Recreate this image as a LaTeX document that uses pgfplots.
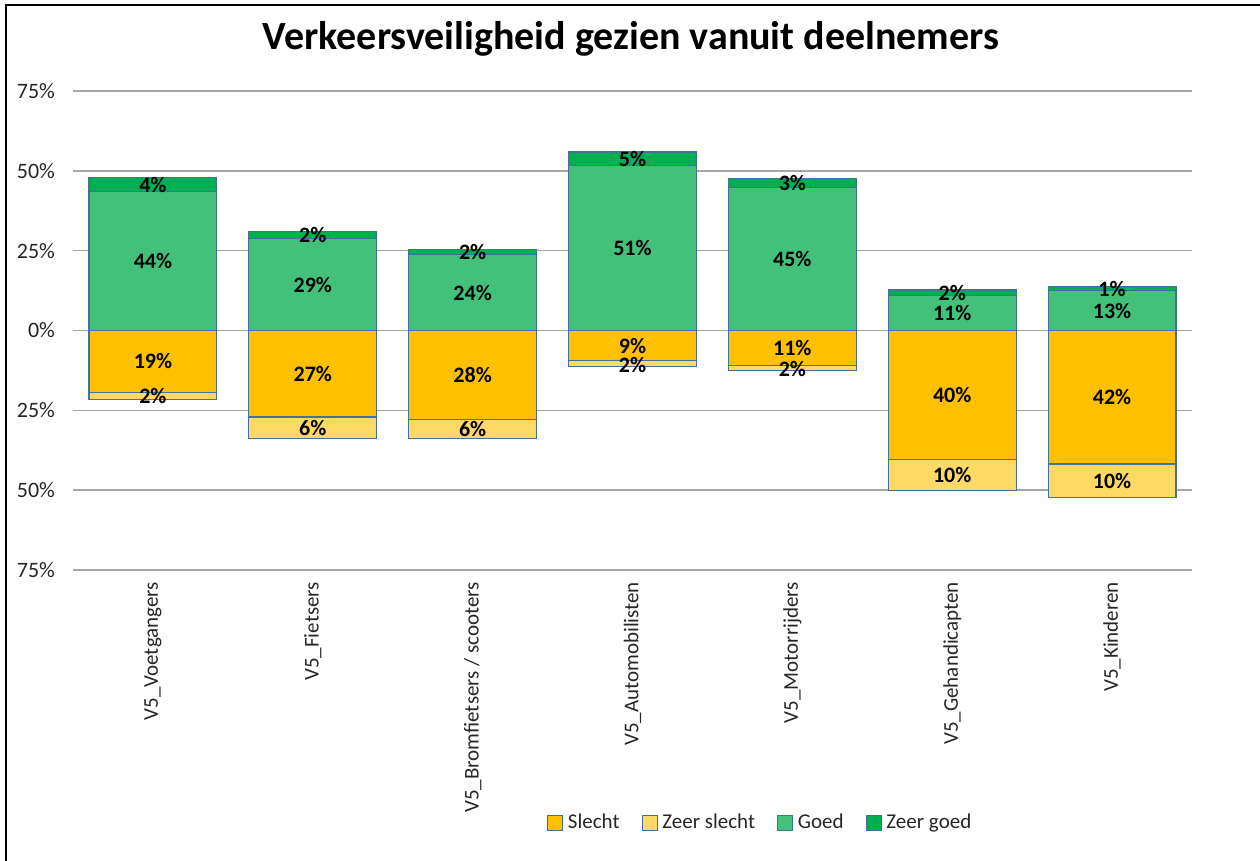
\documentclass[border=0pt]{standalone}
\usepackage{fontspec}
\setmainfont{Carlito}
\usepackage{pgfplots}
\pgfplotsset{compat=1.18}
\definecolor{slecht}{HTML}{FFC000}
\definecolor{zslecht}{HTML}{FFD966}
\definecolor{goed}{HTML}{43C17A}
\definecolor{zgoed}{HTML}{00B050}
\definecolor{edge}{HTML}{41719C}
\definecolor{gridc}{HTML}{A6A6A6}
\definecolor{txt}{HTML}{262626}
\pgfplotsset{
  base/.style={scale only axis, width=559.5pt, height=239.5pt,
    at={(36.5pt,145.5pt)}, anchor=south west,
    xmin=-0.5, xmax=6.5, ymin=-75, ymax=75},
  mylegend/.style={legend image code/.code={\draw[##1] (0pt,-3.75pt) rectangle (7.5pt,3.75pt);}},
  barst/.style={draw=edge, line width=0.6pt}
}
\newcommand{\lbl}{\fontsize{10.5}{12}\selectfont}
\begin{document}
\begin{tikzpicture}
\path[use as bounding box] (0,0) rectangle (630pt,430.5pt);
% main axis: grid, ticks, legend, negative bars
\begin{axis}[base, ybar stacked, bar width=0.8,
  axis line style={draw=none}, major tick length=0pt,
  ymajorgrids, grid style={gridc, line width=0.75pt},
  ytick={-75,-50,...,75},
  yticklabels={75\%,50\%,25\%,0\%,25\%,50\%,75\%},
  yticklabel style={font=\fontsize{11}{13}\selectfont, text=txt, xshift=-5.5pt},
  xtick={0,...,6},
  xticklabels={V5\_Voetgangers,V5\_Fietsers,V5\_Bromfietsers / scooters,V5\_Automobilisten,V5\_Motorrijders,V5\_Gehandicapten,V5\_Kinderen},
  xticklabel shift=2.5pt,
  xticklabel style={rotate=90, anchor=east, font=\lbl, text=txt},
  legend style={at={(0.615,-0.528)}, anchor=center, legend columns=4, draw=none, fill=none, font=\lbl, text=txt,
    /tikz/every odd column/.append style={column sep=0.5pt},
    /tikz/every even column/.append style={column sep=9pt}},
]
\addplot[barst, fill=slecht, forget plot] coordinates {(0,-19.4) (1,-27.1) (2,-27.9) (3,-9.5) (4,-11.0) (5,-40.3) (6,-41.8)};
\addplot[barst, fill=zslecht, forget plot] coordinates {(0,-2.2) (1,-6.6) (2,-5.8) (3,-1.8) (4,-1.6) (5,-9.7) (6,-10.5)};
\addlegendimage{mylegend, fill=slecht, draw=edge}
\addlegendentry{Slecht}
\addlegendimage{mylegend, fill=zslecht, draw=edge}
\addlegendentry{Zeer slecht}
\addlegendimage{mylegend, fill=goed, draw=edge}
\addlegendentry{Goed}
\addlegendimage{mylegend, fill=zgoed, draw=edge}
\addlegendentry{Zeer goed}
\end{axis}
% positive bars
\begin{axis}[base, ybar stacked, bar width=0.8, hide axis]
\addplot[barst, fill=goed] coordinates {(0,43.5) (1,28.7) (2,23.7) (3,51.6) (4,44.7) (5,10.9) (6,12.4)};
\addplot[barst, fill=zgoed] coordinates {(0,4.3) (1,2.3) (2,1.6) (3,4.3) (4,3.0) (5,1.8) (6,1.3)};
\end{axis}
% data labels
\begin{axis}[base, hide axis]
\addplot[only marks, mark=none, nodes near coords, point meta=explicit symbolic,
  every node near coord/.append style={anchor=center, font=\fontsize{11}{13}\selectfont\bfseries, text=black}]
coordinates {
(0,-9.7) [19\%] (0,-20.6) [2\%] (0,21.75) [44\%] (0,45.65) [4\%]
(1,-13.55) [27\%] (1,-30.4) [6\%] (1,14.35) [29\%] (1,29.85) [2\%]
(2,-13.95) [28\%] (2,-30.8) [6\%] (2,11.85) [24\%] (2,24.5) [2\%]
(3,-4.75) [9\%] (3,-10.8) [2\%] (3,25.8) [51\%] (3,53.75) [5\%]
(4,-5.5) [11\%] (4,-12.2) [2\%] (4,22.35) [45\%] (4,46.2) [3\%]
(5,-20.15) [40\%] (5,-45.15) [10\%] (5,5.45) [11\%] (5,11.8) [2\%]
(6,-20.9) [42\%] (6,-47.05) [10\%] (6,6.2) [13\%] (6,13.05) [1\%]
};
\end{axis}
\node[font=\fontsize{20}{24}\selectfont\bfseries, text=black, anchor=base] at (315.5pt,405.5pt) {Verkeersveiligheid gezien vanuit deelnemers};
\draw[black, line width=1pt] (2.75pt,0) -- (2.75pt,427.75pt) -- (630pt,427.75pt);
\end{tikzpicture}
\end{document}
